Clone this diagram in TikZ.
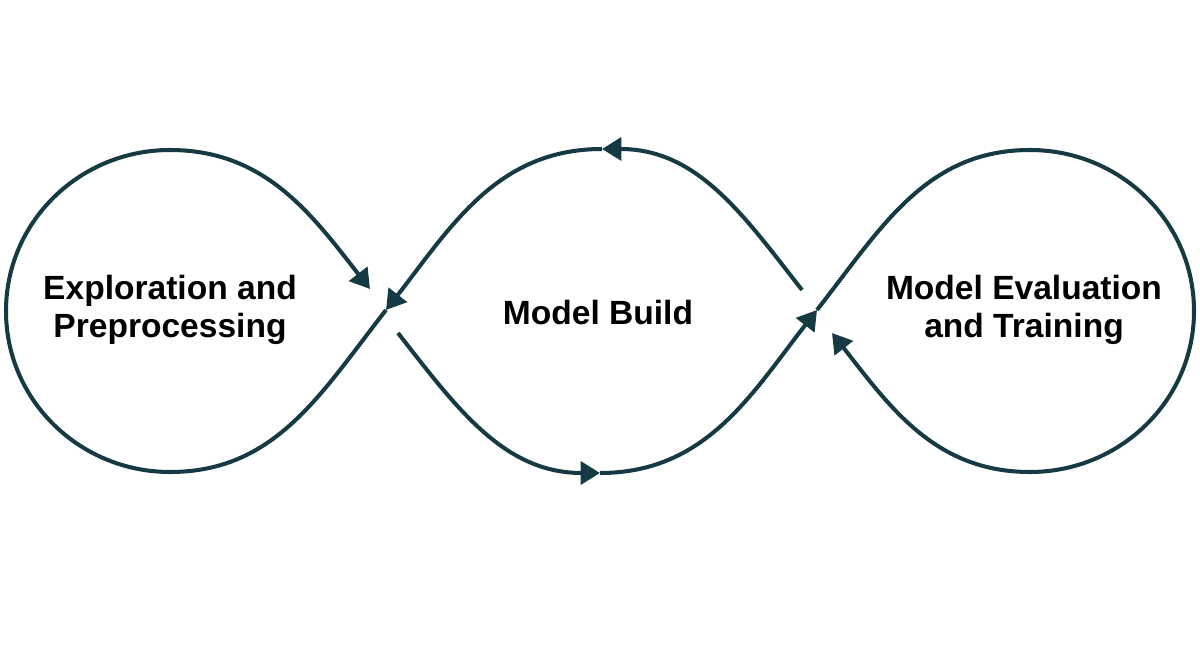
\documentclass[tikz,border=0pt]{standalone}
\usepackage{fontspec}
\setmainfont{Liberation Sans}
\usetikzlibrary{arrows.meta}
\definecolor{cyclecol}{HTML}{163A43}

\begin{document}
\begin{tikzpicture}[x=0.02cm,y=-0.02cm]%[grow'=right]
      \tikzset{stage/.style={font=\bfseries\fontsize{19.1}{21.5}\selectfont, align=center},
               cycleline/.style={draw=cyclecol, line width=2.3pt},
               endarrow/.style={-{Triangle[length=11pt,width=13pt]}}}
      \useasboundingbox (0,0) rectangle (1200,651);
      \node[stage] (explore) at (170,310) {Exploration and\\Preprocessing};
      \node[stage] (build) at (598,313) {Model Build};
      \node[stage] (evaluate) at (1024,310) {Model Evaluation\\and Training};
      \coordinate (crossL) at (386,310);
      \coordinate (inL) at (370,289);
      \coordinate (outL) at (398,333);
      \coordinate (bottom) at (600,473);
      \coordinate (crossR) at (817,310);
      \coordinate (inR) at (832,333);
      \coordinate (outR) at (802,290);
      \coordinate (top) at (602,149);
      \coordinate (LT) at (170,150);
      \coordinate (LL) at (6,311);
      \coordinate (LB) at (170,472);
      \coordinate (RT) at (1030,150);
      \coordinate (RR) at (1194,311);
      \coordinate (RB) at (1030,472);
      \draw[cycleline,endarrow] (top) to[out=180,in=52] (crossL);
      \draw[cycleline,endarrow] (crossL) to[out=232,in=0] (LB) to[out=180,in=270] (LL)
            to[out=90,in=180] (LT) to[out=0,in=128] (inL);
      \draw[cycleline,endarrow] (outL) to[out=-52,in=180] (bottom);
      \draw[cycleline,endarrow] (bottom) to[out=0,in=232] (crossR);
      \draw[cycleline,endarrow] (crossR) to[out=52,in=180] (RT) to[out=0,in=90] (RR)
            to[out=270,in=0] (RB) to[out=180,in=-52] (inR);
      \draw[cycleline,endarrow] (outR) to[out=128,in=0] (top);
\end{tikzpicture}
\end{document}
